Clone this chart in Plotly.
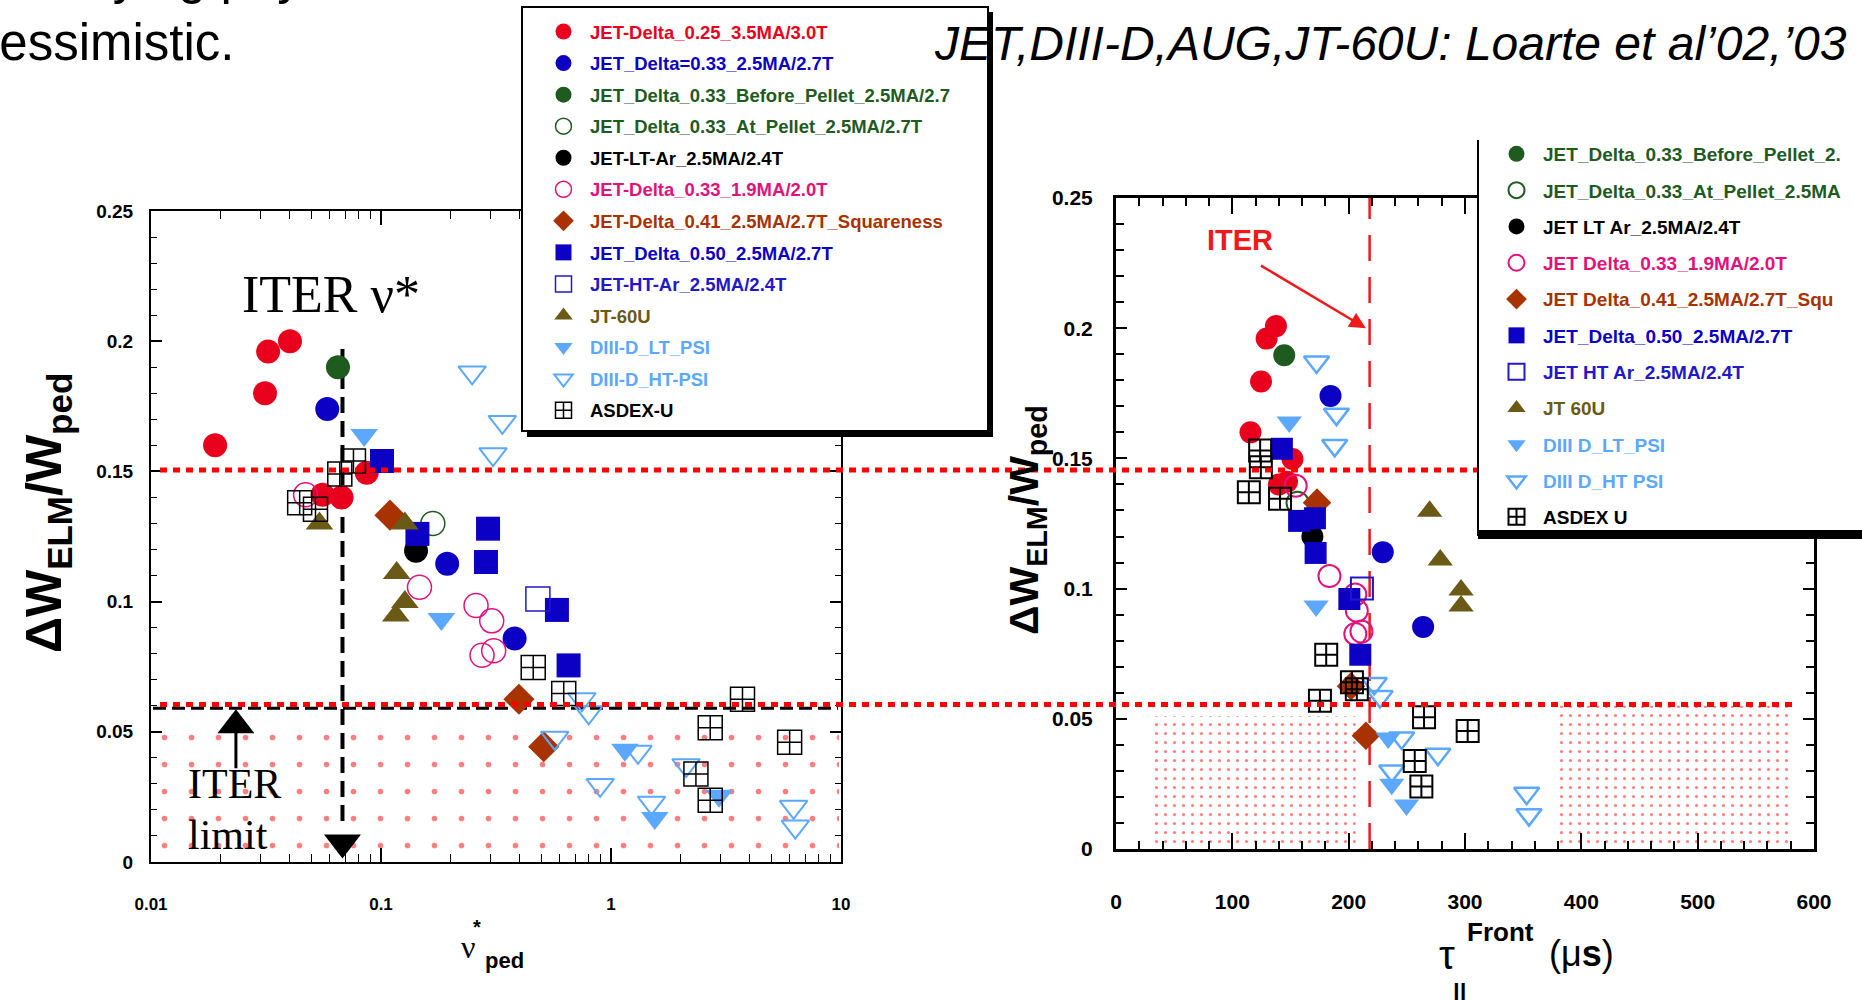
import plotly.graph_objects as go

W, H = 1862, 1000

# ---------------- data ----------------
# Left panel: x = nu*_ped, y = dW_ELM/W_ped
d025_nu = [0.019, 0.0313, 0.0323, 0.0402, 0.0557, 0.0674, 0.0867]
d025_dw = [0.160, 0.180, 0.196, 0.200, 0.141, 0.140, 0.1495]
d033_nu = [0.0584, 0.194, 0.381]
d033_dw = [0.174, 0.1145, 0.0858]
bp_nu = [0.065]
bp_dw = [0.190]
ap_nu = [0.168]
ap_dw = [0.130]
ltar_nu = [0.142]
ltar_dw = [0.1195]
m19_nu = [0.047, 0.147, 0.259, 0.303, 0.275, 0.309]
m19_dw = [0.141, 0.1055, 0.0985, 0.0926, 0.0794, 0.0811]
sq41_nu = [0.1094, 0.398, 0.51]
sq41_dw = [0.1332, 0.0625, 0.0443]
d050_nu = [0.101, 0.144, 0.292, 0.286, 0.582, 0.654]
d050_dw = [0.154, 0.126, 0.128, 0.1152, 0.0968, 0.0755]
htar_nu = [0.481]
htar_dw = [0.101]
jt_nu = [0.054, 0.127, 0.117, 0.127, 0.116]
jt_dw = [0.130, 0.130, 0.111, 0.0998, 0.0947]
dlt_nu = [0.0845, 0.183, 1.15, 1.55, 2.95]
dlt_dw = [0.164, 0.0933, 0.0431, 0.0169, 0.0254]
dht_nu = [0.249, 0.337, 0.307, 0.747, 0.80, 0.569, 1.31, 0.897, 1.5, 2.12, 6.22, 6.33]
dht_dw = [0.188, 0.169, 0.1566, 0.0625, 0.0575, 0.0477, 0.0423, 0.0296, 0.0228, 0.0372, 0.0212, 0.0136]
aug_nu = [0.0443, 0.0519, 0.0662, 0.0759, 0.459, 0.623, 2.7, 2.34, 2.70, 3.73, 5.98]
aug_dw = [0.138, 0.1355, 0.149, 0.154, 0.0747, 0.0647, 0.0516, 0.0338, 0.0237, 0.0625, 0.046]

# Right panel: x = tau_||^Front (us), y = dW_ELM/W_ped
d025_tau = [115.6, 124.7, 129.5, 137.5, 140, 147, 151.7]
d025_dw2 = [0.160, 0.1795, 0.196, 0.2008, 0.140, 0.141, 0.1498]
d033_tau = [184.4, 229.3, 264]
d033_dw2 = [0.174, 0.114, 0.0853]
bp_tau = [144.6]
bp_dw2 = [0.1896]
ap_tau = [156]
ap_dw2 = [0.133]
ltar_tau = [168.8]
ltar_dw2 = [0.120]
m19_tau = [154.5, 183.5, 205.7, 207, 205.7, 211]
m19_dw2 = [0.1395, 0.1048, 0.0977, 0.0915, 0.0826, 0.0835]
sq41_tau = [172.8, 202, 214.8]
sq41_dw2 = [0.133, 0.0625, 0.0435]
d050_tau = [142.6, 157.4, 171, 171.6, 200.6, 210]
d050_dw2 = [0.1537, 0.126, 0.127, 0.1137, 0.096, 0.0746]
htar_tau = [211.4]
htar_dw2 = [0.100]
jt_tau = [269.6, 278.7, 296.6, 296.6]
jt_dw2 = [0.1297, 0.111, 0.0995, 0.0933]
dlt_tau = [148.9, 172, 234, 237, 249.7]
dlt_dw2 = [0.164, 0.0933, 0.0426, 0.0249, 0.0169]
dht_tau = [172.4, 189.5, 188, 222, 227, 245.5, 237, 276.7, 353, 355]
dht_dw2 = [0.187, 0.167, 0.155, 0.0636, 0.0586, 0.0426, 0.030, 0.0364, 0.0214, 0.0132]
aug_tau = [123.9, 124.5, 114.2, 141, 180.7, 202.8, 207, 175.3, 264.8, 256.8, 262.5, 302.3]
aug_dw2 = [0.153, 0.1466, 0.137, 0.1345, 0.0746, 0.064, 0.0613, 0.0569, 0.0506, 0.0338, 0.024, 0.0453]

labels_left = ["JET-Delta_0.25_3.5MA/3.0T", "JET_Delta=0.33_2.5MA/2.7T",
               "JET_Delta_0.33_Before_Pellet_2.5MA/2.7", "JET_Delta_0.33_At_Pellet_2.5MA/2.7T",
               "JET-LT-Ar_2.5MA/2.4T", "JET-Delta_0.33_1.9MA/2.0T",
               "JET-Delta_0.41_2.5MA/2.7T_Squareness", "JET_Delta_0.50_2.5MA/2.7T",
               "JET-HT-Ar_2.5MA/2.4T", "JT-60U", "DIII-D_LT_PSI", "DIII-D_HT-PSI", "ASDEX-U"]
# right-hand legend is cut by the picture edge: only the visible part of each label
labels_right = ["JET-Delta_0.25_3.5MA/3.0T", "JET_Delta=0.33_2.5MA/2.7T",
                "JET_Delta_0.33_Before_Pellet_2.", "JET_Delta_0.33_At_Pellet_2.5MA",
                "JET LT Ar_2.5MA/2.4T", "JET Delta_0.33_1.9MA/2.0T",
                "JET Delta_0.41_2.5MA/2.7T_Squ", "JET_Delta_0.50_2.5MA/2.7T",
                "JET HT Ar_2.5MA/2.4T", "JT 60U", "DIII D_LT_PSI", "DIII D_HT PSI", "ASDEX U"]

left_x_ticks = [0.01, 0.1, 1, 10]
left_x_ticktext = ["0.01", "0.1", "1", "10"]

# hatch regions (limit areas)
hatchL_x = [0.0104, 9.8]
hatchL_y = [0.0, 0.056]
hatchR1_x = [32, 206]
hatchR1_y = [0.0, 0.051]
hatchR2_x = [377, 582]
hatchR2_y = [0.0, 0.055]

# ---------------- styles ----------------
RED = "#E8001C"
BLUE = "#0C00C4"
DGREEN = "#1F5A1F"
MAG = "#E2127C"
BROWN = "#A83200"
OLIVE = "#6B5A16"
LBLUE = "#5CA8FF"
BLUE2 = "#2218C8"

styles = [
    dict(symbol="circle", color=RED, lw=0),
    dict(symbol="circle", color=BLUE, lw=0),
    dict(symbol="circle", color=DGREEN, lw=0),
    dict(symbol="circle-open", color=DGREEN, lw=1.5),
    dict(symbol="circle", color="black", lw=0),
    dict(symbol="circle-open", color=MAG, lw=1.5),
    dict(symbol="diamond", color=BROWN, lw=0),
    dict(symbol="square", color=BLUE, lw=0),
    dict(symbol="square-open", color=BLUE2, lw=1.5),
    dict(symbol="triangle-up", color=OLIVE, lw=0),
    dict(symbol="triangle-down", color=LBLUE, lw=0),
    dict(symbol="triangle-down-open", color=LBLUE, lw=2),
    dict(symbol="square-cross-open", color="black", lw=1.5),
]
left_sets = [(d025_nu, d025_dw), (d033_nu, d033_dw), (bp_nu, bp_dw), (ap_nu, ap_dw),
             (ltar_nu, ltar_dw), (m19_nu, m19_dw), (sq41_nu, sq41_dw), (d050_nu, d050_dw),
             (htar_nu, htar_dw), (jt_nu, jt_dw), (dlt_nu, dlt_dw), (dht_nu, dht_dw), (aug_nu, aug_dw)]
right_sets = [(d025_tau, d025_dw2), (d033_tau, d033_dw2), (bp_tau, bp_dw2), (ap_tau, ap_dw2),
              (ltar_tau, ltar_dw2), (m19_tau, m19_dw2), (sq41_tau, sq41_dw2), (d050_tau, d050_dw2),
              (htar_tau, htar_dw2), (jt_tau, jt_dw2), (dlt_tau, dlt_dw2), (dht_tau, dht_dw2),
              (aug_tau, aug_dw2)]

SANS = "Liberation Sans, Arial, sans-serif"
SERIF = "Liberation Serif, Times New Roman, serif"


def px(x):
    return x / W


def py(y):
    return 1 - y / H


fig = go.Figure()


def hatch(xs, ys, xa, ya, size, sol):
    fig.add_trace(go.Scatter(
        x=[xs[0], xs[1], xs[1], xs[0], xs[0]], y=[ys[0], ys[0], ys[1], ys[1], ys[0]],
        mode="lines", line=dict(width=0), fill="toself", fillcolor="rgba(0,0,0,0)",
        fillpattern=dict(shape=".", fgcolor="#FF0000", size=size, solidity=sol),
        xaxis=xa, yaxis=ya, showlegend=False, hoverinfo="skip"))


hatch(hatchL_x, hatchL_y, "x", "y", 27, 0.034)
hatch(hatchR1_x, hatchR1_y, "x2", "y2", 9, 0.1)
hatch(hatchR2_x, hatchR2_y, "x2", "y2", 9, 0.1)

# black dashed ITER-limit line and arrows on left panel
fig.add_trace(go.Scatter(x=[0.0102, 9.7], y=[0.059, 0.059], mode="lines",
                         line=dict(color="black", width=3, dash="13px,6px"),
                         xaxis="x", yaxis="y", showlegend=False, hoverinfo="skip"))
fig.add_trace(go.Scatter(x=[0.068, 0.068], y=[0.197, 0.014], mode="lines",
                         line=dict(color="black", width=4, dash="16px,8px"),
                         xaxis="x", yaxis="y", showlegend=False, hoverinfo="skip"))
fig.add_trace(go.Scatter(x=[0.068], y=[0.0075], mode="markers",
                         marker=dict(symbol="triangle-down", size=32, color="black"),
                         xaxis="x", yaxis="y", showlegend=False, hoverinfo="skip"))
fig.add_trace(go.Scatter(x=[0.0234, 0.0234], y=[0.036, 0.05], mode="lines",
                         line=dict(color="black", width=3),
                         xaxis="x", yaxis="y", showlegend=False, hoverinfo="skip"))
fig.add_trace(go.Scatter(x=[0.0234], y=[0.0525], mode="markers",
                         marker=dict(symbol="triangle-up", size=32, color="black"),
                         xaxis="x", yaxis="y", showlegend=False, hoverinfo="skip"))

# data
for i, ((xv, yv), st) in enumerate(zip(left_sets, styles)):
    fig.add_trace(go.Scatter(
        x=xv, y=yv, mode="markers", xaxis="x", yaxis="y", legend="legend",
        legendgroup="L%d" % i,
        name="<span style='color:%s'>%s</span>" % (st["color"], labels_left[i]),
        marker=dict(symbol=st["symbol"], size=24, color=st["color"],
                    line=dict(width=st["lw"], color=st["color"])),
        hoverinfo="x+y"))
for i, ((xv, yv), st) in enumerate(zip(right_sets, styles)):
    fig.add_trace(go.Scatter(
        x=xv, y=yv, mode="markers", xaxis="x2", yaxis="y2", legend="legend2",
        legendgroup="R%d" % i, showlegend=i >= 2,
        name="<span style='color:%s'>%s</span>" % (st["color"], labels_right[i]),
        marker=dict(symbol=st["symbol"], size=22, color=st["color"],
                    line=dict(width=st["lw"] + (0.5 if st["lw"] else 0), color=st["color"])),
        hoverinfo="x+y"))

minor_log = [m * 10 ** e for e in (-2, -1, 0) for m in range(2, 10)]

axis_common = dict(showline=True, linecolor="black", mirror="allticks", ticks="inside",
                   tickcolor="black", showgrid=False, zeroline=False)

shapes = [
    dict(type="line", xref="x2", yref="y2", x0=218, x1=218, y0=0, y1=0.25,
         line=dict(color="#F01818", width=2.5, dash="26px,16px"), layer="below"),
    dict(type="line", xref="paper", yref="y", x0=px(160), x1=1.0, y0=0.1505, y1=0.1505,
         line=dict(color="#FF0000", width=5, dash="7px,6px"), layer="above"),
    dict(type="line", xref="paper", yref="y", x0=px(160), x1=px(1794), y0=0.0605, y1=0.0605,
         line=dict(color="#FF0000", width=5, dash="7px,6px"), layer="above"),
    # left legend box with shadow
    dict(type="rect", xref="paper", yref="paper", x0=px(527), x1=px(993), y0=py(437), y1=py(12),
         fillcolor="black", line=dict(width=0), layer="above"),
    dict(type="rect", xref="paper", yref="paper", x0=px(522), x1=px(988), y0=py(431), y1=py(7),
         fillcolor="white", line=dict(color="black", width=2), layer="above"),
    # right legend box (top cut off)
    dict(type="rect", xref="paper", yref="paper", x0=px(1478), x1=1.02, y0=py(532), y1=py(140),
         fillcolor="white", line=dict(width=0), layer="above"),
    dict(type="line", xref="paper", yref="paper", x0=px(1478), x1=px(1478), y0=py(536), y1=py(140),
         line=dict(color="black", width=2), layer="above"),
    dict(type="rect", xref="paper", yref="paper", x0=px(1478), x1=1.02, y0=py(539), y1=py(530),
         fillcolor="black", line=dict(width=0), layer="above"),
]

ann = []


def text(x, y, s, size, family=SANS, color="black", weight="normal", angle=0, xanchor="center",
         style="normal"):
    ann.append(dict(xref="paper", yref="paper", x=px(x), y=py(y), text=s, showarrow=False,
                    xanchor=xanchor, yanchor="middle", textangle=angle,
                    font=dict(size=size, family=family, color=color, weight=weight, style=style)))


text(-31, -24, "underlying physics", 51, xanchor="left")
text(-31, 42, "pessimistic.", 51, xanchor="left")
text(932, 43, "JET,DIII-D,AUG,JT-60U: Loarte et al’02,’03", 48, xanchor="left", style="italic")
text(331, 294, "ITER ν*", 52, family=SERIF)
text(186, 784, "ITER", 42, family=SERIF, xanchor="left")
text(186, 835, "limit", 42, family=SERIF, xanchor="left")
text(47, 513, "<b>ΔW<sub>ELM</sub>/W<sub>ped</sub></b>", 50, angle=-90)
text(468, 947, "ν", 32, family=SERIF)
text(477, 927, "<b>*</b>", 20)
text(504, 960, "<b>ped</b>", 22)
text(1027, 520, "<b>ΔW<sub>ELM</sub>/W<sub>ped</sub></b>", 41, angle=-90)
text(1447, 955, "τ", 40)
text(1500, 932, "<b>Front</b>", 26)
text(1459, 992, "<b>||</b>", 24)
text(1581, 953, "(μ<b>s</b>)", 36)
text(1240, 240, "<b>ITER</b>", 29, color="#F01818")
ann.append(dict(xref="x2", yref="y2", x=214.8, y=0.2, ax=123.3, ay=0.2244, axref="x2", ayref="y2",
                text="", showarrow=True, arrowhead=2, arrowsize=1.3, arrowwidth=2.5,
                arrowcolor="#F01818"))

fig.update_layout(
    width=W, height=H, margin=dict(l=0, r=0, t=0, b=0, autoexpand=False),
    paper_bgcolor="white", plot_bgcolor="white",
    xaxis=dict(type="log", range=[-2, 1], domain=[px(151), px(841)], anchor="y",
               linewidth=2, ticklen=14, tickwidth=1.5,
               tickmode="array", tickvals=left_x_ticks, ticktext=left_x_ticktext,
               minor=dict(ticks="inside", ticklen=8, tickwidth=1.2, tickcolor="black",
                          tickmode="array", tickvals=minor_log),
               tickfont=dict(family=SANS, size=17, weight="bold", color="black"),
               ticklabelstandoff=26, **axis_common),
    yaxis=dict(range=[0, 0.25], domain=[py(862), py(211)], anchor="x",
               linewidth=2, ticklen=11, tickwidth=1.5, tick0=0, dtick=0.05,
               minor=dict(ticks="inside", ticklen=6, tickwidth=1.2, tickcolor="black", dtick=0.01),
               tickfont=dict(family=SANS, size=19, weight="bold", color="black"),
               ticklabelstandoff=12, **axis_common),
    xaxis2=dict(range=[0, 600], domain=[px(1116), px(1814)], anchor="y2",
                linewidth=3, ticklen=16, tickwidth=2, tick0=0, dtick=100,
                minor=dict(ticks="inside", ticklen=8, tickwidth=2, tickcolor="black", dtick=20),
                tickfont=dict(family=SANS, size=21, weight="bold", color="black"),
                ticklabelstandoff=32, **axis_common),
    yaxis2=dict(range=[0, 0.25], domain=[py(849), py(198)], anchor="x2",
                linewidth=3, ticklen=11, tickwidth=2, tick0=0, dtick=0.05,
                minor=dict(ticks="inside", ticklen=8, tickwidth=2, tickcolor="black", dtick=0.01),
                tickfont=dict(family=SANS, size=21, weight="bold", color="black"),
                ticklabelstandoff=16, **axis_common),
    legend=dict(x=px(537), y=py(13), xanchor="left", yanchor="top", bgcolor="rgba(0,0,0,0)",
                borderwidth=0, font=dict(family=SANS, size=18.5, weight="bold"),
                itemsizing="trace", itemwidth=43, traceorder="grouped", tracegroupgap=4.5),
    legend2=dict(x=px(1490), y=py(135), xanchor="left", yanchor="top", bgcolor="rgba(0,0,0,0)",
                 borderwidth=0, font=dict(family=SANS, size=19, weight="bold"),
                 itemsizing="trace", itemwidth=43, traceorder="grouped", tracegroupgap=8.6),
    shapes=shapes, annotations=ann, showlegend=True,
)

fig.write_html("out.html")
